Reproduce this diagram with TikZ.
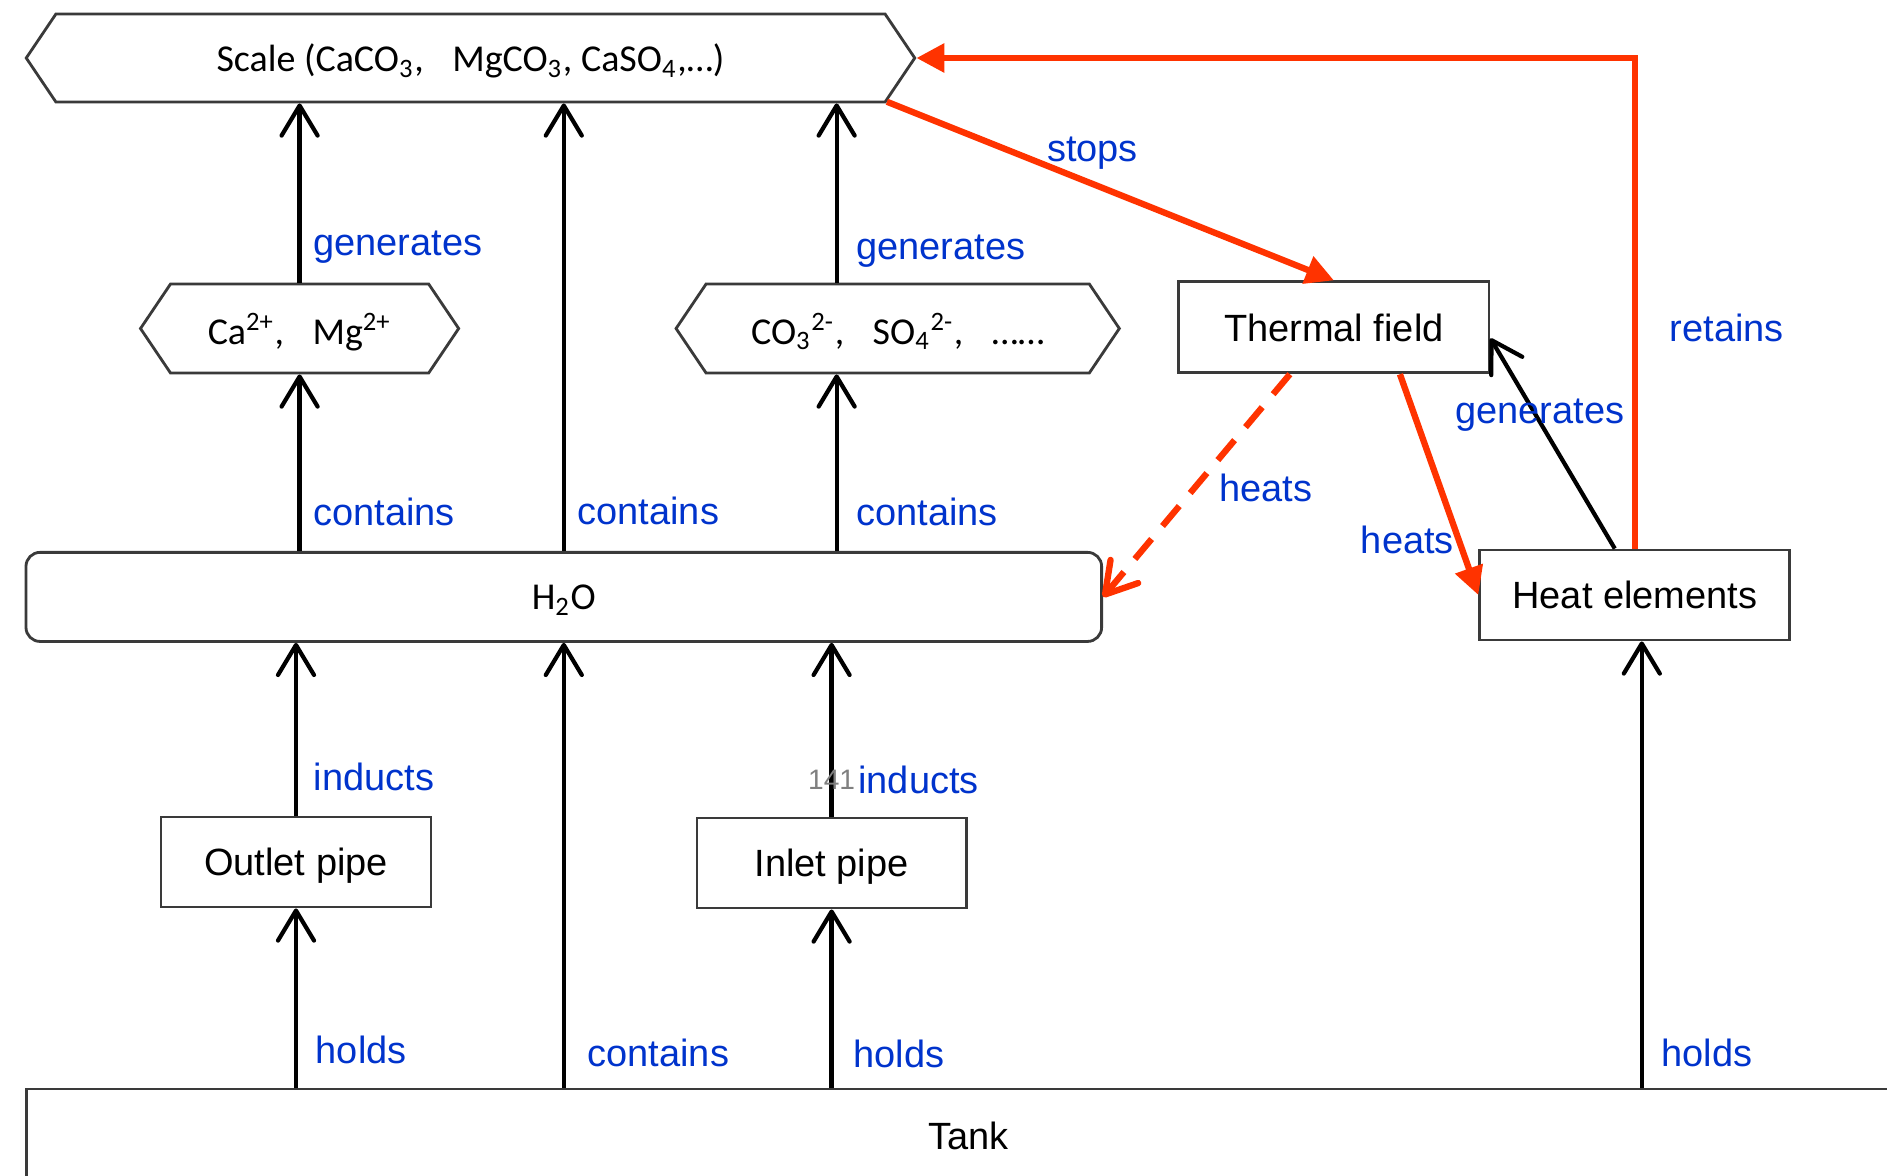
\documentclass[tikz,border=0pt]{standalone}
\usepackage{fontspec}
\setmainfont{Liberation Sans}
\newfontfamily\carlito{Carlito}
\usepackage{tikz}
\usetikzlibrary{arrows.meta,shapes.symbols}
\definecolor{linkblue}{RGB}{0,51,204}
\definecolor{hotred}{RGB}{255,51,0}
\definecolor{edgegray}{RGB}{58,58,58}

\begin{document}
\begin{tikzpicture}[
  x=0.01cm, y=-0.01cm,
  font=\fontsize{10.8}{13}\selectfont,
  box/.style={draw=edgegray,line width=0.8pt,minimum height=0.9cm,inner sep=2pt,text depth=0pt},
  hexa/.style={box,signal,signal to=west and east,signal pointer angle=112,font=\carlito\fontsize{10.8}{13}\selectfont},
  flow/.style={line width=1.2pt,-{Straight Barb[length=3mm,width=3.6mm,round]}},
  hot/.style={hotred,line width=1.8pt,-{Triangle[length=2.8mm,width=2.8mm]}},
  hotdash/.style={hotred,line width=1.8pt,dash pattern=on 2.6mm off 1.7mm,-{Straight Barb[length=3mm,width=3.6mm,round]}},
  lbl/.style={text=linkblue}
]
\useasboundingbox (0,0) rectangle (1887,1175);

\node[hexa,minimum width=8.88cm,minimum height=0.88cm] (scale) at (470.5,58)
  {Scale (CaCO\textsubscript{3},\hspace{0.75em}MgCO\textsubscript{3}, CaSO\textsubscript{4},…)};
\node[hexa,minimum width=3.18cm,minimum height=0.89cm] (ca) at (299.6,328.5)
  {Ca\textsuperscript{2+},\hspace{0.75em}Mg\textsuperscript{2+}};
\node[hexa,minimum width=4.43cm,minimum height=0.89cm] (co3) at (897.7,328.5)
  {CO\textsubscript{3}\textsuperscript{2-},\hspace{0.75em}SO\textsubscript{4}\textsuperscript{2-},\hspace{0.75em}……};
\node[box,minimum width=3.10cm,minimum height=0.91cm] (thermal) at (1333.9,327.3) {Thermal field};
\node[box,rounded corners=1.4mm,minimum width=10.75cm,minimum height=0.89cm,font=\carlito\fontsize{10.8}{13}\selectfont] (h2o) at (563.8,596.9) {H\textsubscript{2}O};
\node[box,minimum width=3.10cm] (heat) at (1634.8,595) {Heat elements};
\node[box,minimum width=2.70cm] (outlet) at (296,862) {Outlet pipe};
\node[box,minimum width=2.69cm] (inlet) at (831.6,863) {Inlet pipe};
\node[box,minimum width=18.84cm,minimum height=0.94cm] (tank) at (968.7,1136) {Tank};

\draw[flow] (ca.north) -- node[lbl,right,pos=0.2]{generates} (ca.north |- scale.south);
\draw[flow] (h2o.north) -- node[lbl,right,pos=0.09]{contains} (h2o.north |- scale.south);
\draw[flow] ([xshift=-6.1mm]co3.north) -- node[lbl,right=0.6mm,pos=0.177]{generates} ([xshift=-6.1mm]co3.north |- scale.south);
\draw[flow] (h2o.north -| ca) -- node[lbl,right,pos=0.22]{contains} (ca.south);
\draw[flow] ([xshift=-6.1mm]co3.south |- h2o.north) -- node[lbl,right=0.6mm,pos=0.22]{contains} ([xshift=-6.1mm]co3.south);
\draw[flow] (outlet.north) -- node[lbl,right=0.4mm,pos=0.225]{inducts} (outlet.north |- h2o.south);
\draw[flow] (tank.north -| h2o) -- node[lbl,right=1mm,pos=0.078]{contains} (h2o.south);
\draw[flow] (inlet.north) -- node[pos=0.21,text=gray,font=\fontsize{8}{9}\selectfont]{141}
  node[lbl,right=1.3mm,pos=0.21]{inducts} (inlet.north |- h2o.south);
\draw[flow] (tank.north -| outlet) -- node[lbl,right=0.6mm,pos=0.21]{holds} (outlet.south);
\draw[flow] (tank.north -| inlet) -- node[lbl,right=0.8mm,pos=0.19]{holds} (inlet.south);
\draw[flow] ([xshift=0.7mm]heat.south |- tank.north) -- node[lbl,right=0.6mm,pos=0.078]{holds} ([xshift=0.7mm]heat.south);
\draw[flow] ([xshift=-2mm]heat.north) -- node[lbl,pos=0.66,xshift=0.7mm,yshift=-0.5mm]{generates} ([yshift=-1.1mm]thermal.east);

\draw[hot] (scale.-6) -- node[lbl,above,pos=0.46]{stops} (thermal.north);
\draw[hot] (heat.north) -- node[lbl,right=2mm,pos=0.45]{retains} (heat.north |- scale.east) -- (scale.east);
\draw[hotdash] ([xshift=-4.4mm]thermal.south) -- node[lbl,right=1mm,pos=0.51]{heats} (h2o.east);
\draw[hot] ([xshift=6.6mm]thermal.south) -- node[lbl,left,pos=0.75,xshift=1mm]{heats} (heat.west);
\end{tikzpicture}
\end{document}
